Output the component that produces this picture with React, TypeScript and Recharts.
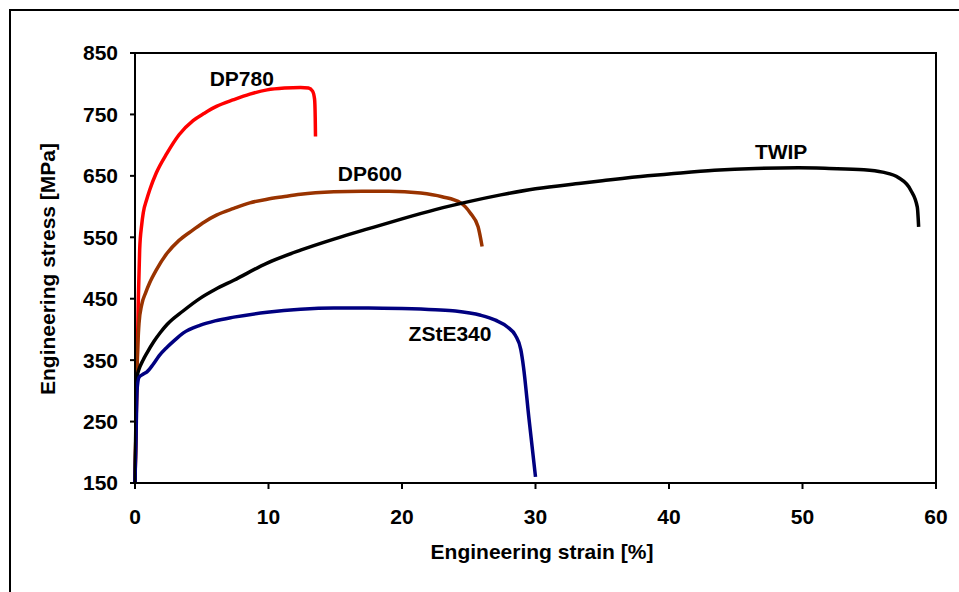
import { LineChart, Line, XAxis, YAxis, ReferenceArea, ReferenceDot, Label } from "recharts";

const xTicks = [0, 10, 20, 30, 40, 50, 60];
const yTicks = [150, 250, 350, 450, 550, 650, 750, 850];

const dp780Strain = [0, 0.15, 0.25, 0.35, 0.5, 0.62, 0.87, 1.1, 1.6, 2.4, 3.3, 4.35, 5.2, 6.1, 7.4, 8.6, 9.9, 11.2, 12.4, 13.0, 13.3, 13.45, 13.5, 13.52];
const dp780Stress = [150, 330, 450, 530, 570, 590, 611, 627, 655, 687, 717, 740, 752, 763, 774, 783, 790, 793, 794, 793, 788, 775, 745, 714];

const dp600Strain = [0, 0.15, 0.3, 0.5, 0.8, 1.1, 1.6, 2.4, 3.3, 4.35, 5.2, 6.1, 7.4, 8.6, 9.9, 11.1, 12.4, 14.9, 17, 19, 21.4, 23, 24.4, 25.1, 25.7, 26.0];
const dp600Stress = [150, 330, 410, 440, 460, 476, 497, 524, 545, 562, 575, 586, 597, 606, 612, 616, 620, 624, 625, 625, 622, 616, 606, 590, 567, 535];

const twipStrain = [0, 0.15, 0.3, 0.6, 0.9, 1.4, 1.9, 2.4, 3.6, 4.9, 6, 7.4, 9.9, 12.4, 14.9, 17.5, 20, 22.5, 25, 27.4, 30, 33.4, 35, 38.4, 40, 43.4, 46.5, 49.7, 52, 54.6, 56, 57.2, 58.1, 58.6, 58.7];
const twipStress = [150, 322, 335, 350, 362, 380, 395, 408, 430, 451, 465, 480, 508, 529, 547, 564, 580, 595, 608, 619, 629, 638, 642, 650, 653, 659, 662, 663, 662, 660, 656, 647, 627, 599, 567];

const zsteStrain = [0, 0.1, 0.15, 0.3, 0.6, 0.9, 1.35, 1.8, 2.4, 3, 3.6, 4.9, 6, 7.4, 9.9, 12.4, 14.9, 17.5, 20, 22.5, 24, 25.9, 27, 27.9, 28.5, 28.9, 29.1, 29.5, 30];
const zsteStress = [150, 250, 300, 322, 327, 331, 343, 357, 371, 383, 394, 407, 414, 420, 428, 433, 435, 435, 434, 432, 430, 423, 415, 404, 390, 367, 339, 257, 160];

const toPoints = (xs: number[], ys: number[]) => xs.map((x, i) => ({ x, y: ys[i] }));

const series = [
  { name: "DP780", color: "#ff0000", data: toPoints(dp780Strain, dp780Stress), label: [8.0, 809] },
  { name: "DP600", color: "#993300", data: toPoints(dp600Strain, dp600Stress), label: [17.6, 653] },
  { name: "TWIP", color: "#000000", data: toPoints(twipStrain, twipStress), label: [48.4, 690] },
  { name: "ZStE340", color: "#000080", data: toPoints(zsteStrain, zsteStress), label: [23.6, 394] },
];

const font = "'Liberation Sans', Arial, sans-serif";
const tickStyle = { fontFamily: font, fontWeight: 700, fontSize: 21, fill: "#000" };

export default function App() {
  return (
    <div style={{ position: "absolute", left: 0, top: 0, width: 959, height: 592, overflow: "hidden", background: "#fff" }}>
      <div style={{ position: "absolute", left: 9, top: 9, width: 1000, height: 700, borderLeft: "2px solid #000", borderTop: "2px solid #000" }} />
      <div style={{ position: "absolute", left: 0, top: 0 }}>
        <LineChart width={959} height={592} margin={{ top: 53, right: 23, left: 0, bottom: 0 }}>
          <XAxis
            type="number"
            dataKey="x"
            domain={[0, 60]}
            ticks={xTicks}
            allowDuplicatedCategory={false}
            height={109}
            tickSize={6}
            tickMargin={20}
            stroke="#000"
            strokeWidth={2}
            tick={tickStyle}
          >
            <Label
              content={() => (
                <text x={542} y={559} textAnchor="middle" style={{ fontFamily: font, fontWeight: 700, fontSize: 21 }}>
                  Engineering strain [%]
                </text>
              )}
            />
          </XAxis>
          <YAxis
            type="number"
            dataKey="y"
            domain={[150, 850]}
            ticks={yTicks}
            width={135}
            tickSize={5}
            tickMargin={12}
            stroke="#000"
            strokeWidth={2}
            tick={tickStyle}
          >
            <Label
              content={() => (
                <text
                  x={47}
                  y={269}
                  textAnchor="middle"
                  dominantBaseline="central"
                  transform="rotate(-90 47 269)"
                  style={{ fontFamily: font, fontWeight: 700, fontSize: 21 }}
                >
                  Engineering stress [MPa]
                </text>
              )}
            />
          </YAxis>
          <ReferenceArea x1={0} x2={60} y1={150} y2={850} fill="none" stroke="#000" strokeWidth={2} ifOverflow="visible" />
          {series.map((s) => (
            <Line
              key={s.name}
              data={s.data}
              dataKey="y"
              type="monotone"
              stroke={s.color}
              strokeWidth={3.5}
              dot={false}
              isAnimationActive={false}
            />
          ))}
          {series.map((s) => (
            <ReferenceDot
              key={s.name + "-label"}
              x={s.label[0]}
              y={s.label[1]}
              r={0}
              fill="none"
              stroke="none"
              ifOverflow="visible"
              label={{ value: s.name, position: "center", style: { fontFamily: font, fontWeight: 700, fontSize: 21, fill: "#000" } }}
            />
          ))}
        </LineChart>
      </div>
    </div>
  );
}
